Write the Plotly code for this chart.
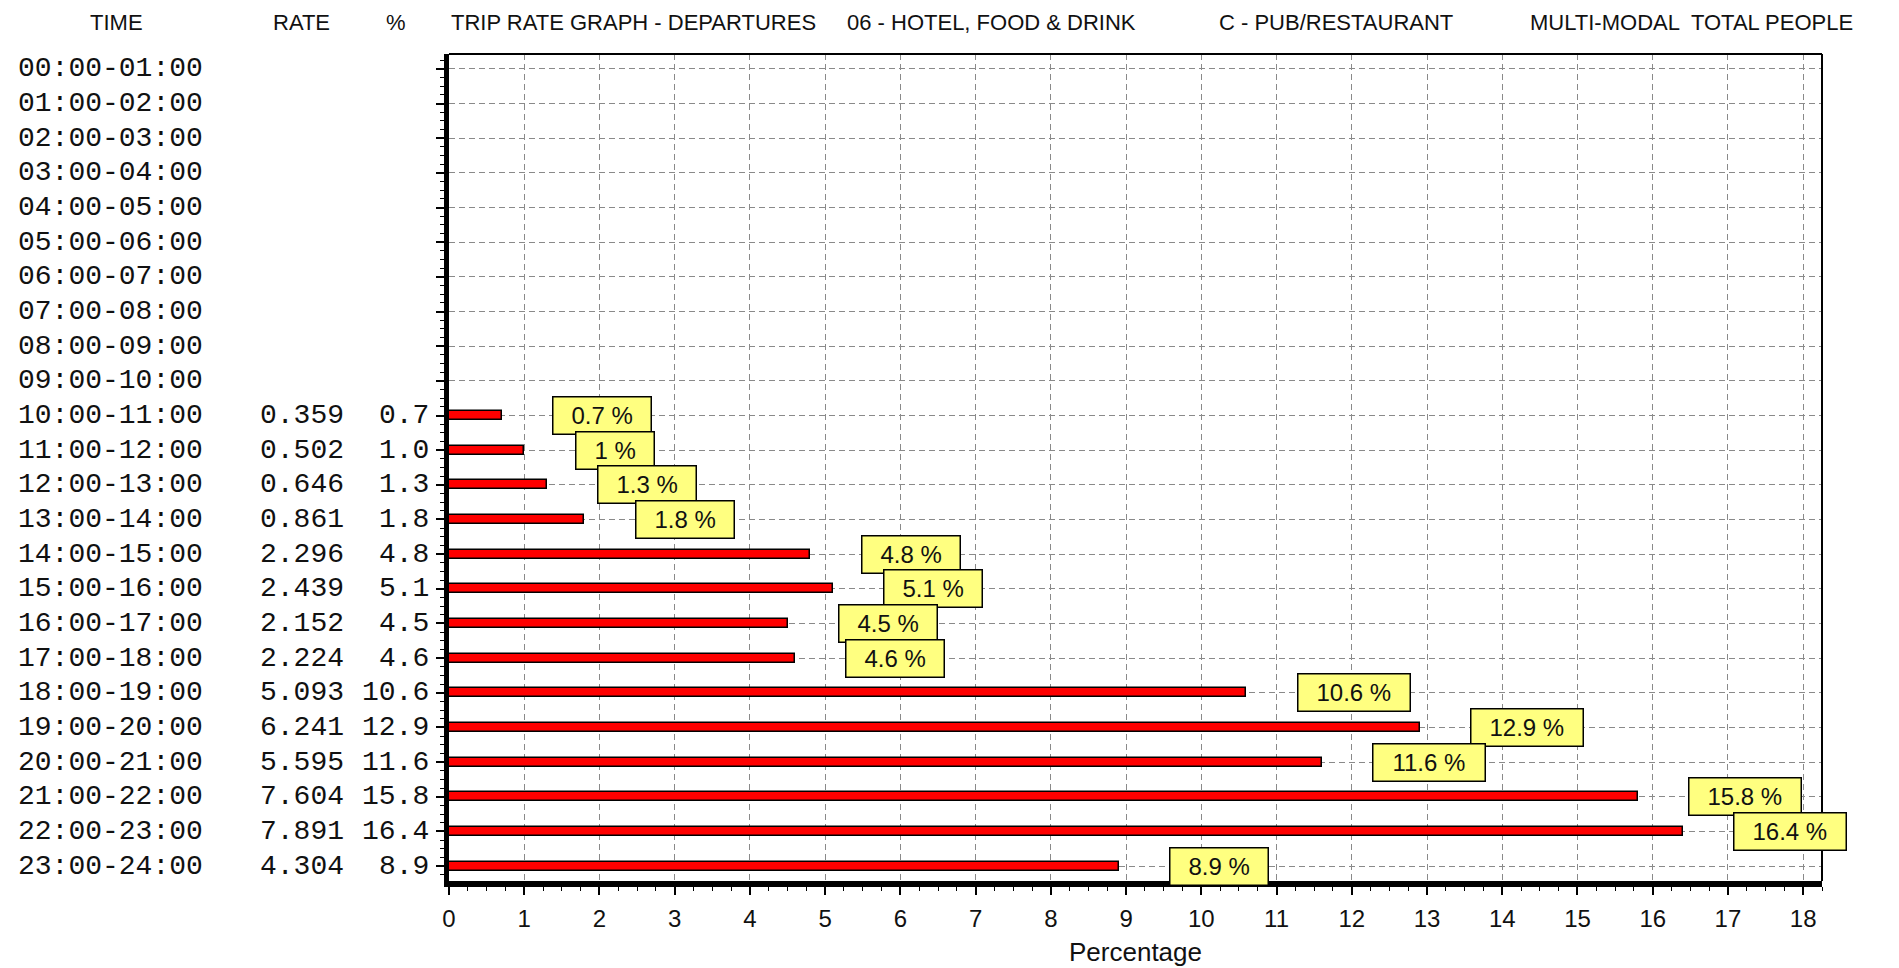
import plotly.graph_objects as go

# ---------------- data ----------------
times = ["00:00-01:00", "01:00-02:00", "02:00-03:00", "03:00-04:00", "04:00-05:00",
         "05:00-06:00", "06:00-07:00", "07:00-08:00", "08:00-09:00", "09:00-10:00",
         "10:00-11:00", "11:00-12:00", "12:00-13:00", "13:00-14:00", "14:00-15:00",
         "15:00-16:00", "16:00-17:00", "17:00-18:00", "18:00-19:00", "19:00-20:00",
         "20:00-21:00", "21:00-22:00", "22:00-23:00", "23:00-24:00"]
rates = [None, None, None, None, None, None, None, None, None, None,
         0.359, 0.502, 0.646, 0.861, 2.296, 2.439, 2.152, 2.224, 5.093, 6.241,
         5.595, 7.604, 7.891, 4.304]
percents = [None, None, None, None, None, None, None, None, None, None,
            0.7, 1.0, 1.3, 1.8, 4.8, 5.1, 4.5, 4.6, 10.6, 12.9,
            11.6, 15.8, 16.4, 8.9]
x_ticks = [0, 1, 2, 3, 4, 5, 6, 7, 8, 9, 10, 11, 12, 13, 14, 15, 16, 17, 18]
header_cols = ["TIME", "RATE", "%"]
title_parts = ["TRIP RATE GRAPH - DEPARTURES", "06 - HOTEL, FOOD & DRINK",
               "C - PUB/RESTAURANT", "MULTI-MODAL  TOTAL PEOPLE"]
x_title = "Percentage"

# ---------------- layout geometry (pixels) ----------------
W, H = 1899, 968
L, R, T, B = 449, 1822, 54, 881
rows = list(range(len(times)))


def px_x(X):
    return (X - L) / (R - L)


def px_y(Y):
    return (B - Y) / (B - T)


MONO = "Liberation Mono, Courier New, monospace"
SANS = "Liberation Sans, Arial, sans-serif"
TXT = "#111111"

fig = go.Figure()
fig.add_trace(go.Bar(
    x=percents, y=rows, orientation="h", width=0.26,
    marker=dict(color="#FF0000", line=dict(color="black", width=1.5)),
    hoverinfo="skip", showlegend=False,
))

ann = []
# left table columns
for i, t in enumerate(times):
    ann.append(dict(text=t, xref="paper", yref="y", x=px_x(16), y=i, xanchor="left",
                    yanchor="middle", showarrow=False, font=dict(family=MONO, size=28, color=TXT)))
    if rates[i] is not None:
        ann.append(dict(text=f"{rates[i]:.3f}", xref="paper", yref="y", x=px_x(346), y=i,
                        xanchor="right", yanchor="middle", showarrow=False,
                        font=dict(family=MONO, size=28, color=TXT)))
    if percents[i] is not None:
        ann.append(dict(text=f"{percents[i]:.1f}", xref="paper", yref="y", x=px_x(431), y=i,
                        xanchor="right", yanchor="middle", showarrow=False,
                        font=dict(family=MONO, size=28, color=TXT)))

# header
for txt, X in zip(header_cols, [116, 301, 396]):
    ann.append(dict(text=txt, xref="paper", yref="paper", x=px_x(X), y=px_y(22),
                    xanchor="center", yanchor="middle", showarrow=False,
                    font=dict(family=SANS, size=22, color=TXT)))
for txt, X, anc in zip(title_parts, [449, 991, 1336, 1528], ["left", "center", "center", "left"]):
    ann.append(dict(text=txt, xref="paper", yref="paper", x=px_x(X), y=px_y(22),
                    xanchor=anc, yanchor="middle", showarrow=False,
                    font=dict(family=SANS, size=22, color=TXT)))

# value labels (yellow boxes)
CW = {".": 0.278, " ": 0.278, "%": 0.889}
LABEL_GAP = 0.67
for i, v in enumerate(percents):
    if v is None:
        continue
    txt = f"{v:g} %"
    est = sum(CW.get(c, 0.556) for c in txt) * 24
    ann.append(dict(text=txt, xref="x", yref="y", x=v + LABEL_GAP, y=i,
                    xanchor="left", yanchor="middle", showarrow=False,
                    bgcolor="#FFFF80", bordercolor="black", borderwidth=1.5, borderpad=1,
                    width=est + 34, height=34, align="center",
                    font=dict(family=SANS, size=24, color=TXT)))

shapes = [
    dict(type="line", xref="paper", yref="paper", x0=0, x1=1, y0=1, y1=1,
         line=dict(color="black", width=2)),
    dict(type="line", xref="paper", yref="paper", x0=1, x1=1, y0=0, y1=1,
         line=dict(color="black", width=2)),
]

fig.update_layout(
    width=W, height=H,
    margin=dict(l=L, r=W - R, t=T, b=H - B, pad=0, autoexpand=False),
    paper_bgcolor="white", plot_bgcolor="white",
    annotations=ann, shapes=shapes,
    bargap=0,
    xaxis=dict(
        automargin=False,
        range=[0, 18.25], tickmode="array", tickvals=x_ticks,
        ticks="outside", ticklen=8, tickwidth=1.5, tickcolor="black",
        ticklabelstandoff=3,
        minor=dict(dtick=0.25, tick0=0, ticks="outside", ticklen=4, tickcolor="black",
                   tickwidth=1, showgrid=False),
        showgrid=True, gridcolor="#8a8a8a", griddash="6px,4px", gridwidth=1,
        zeroline=False, showline=True, linecolor="black", linewidth=6,
        tickfont=dict(family=SANS, size=24, color=TXT),
        title=dict(text=x_title, font=dict(family=SANS, size=26, color=TXT), standoff=14),
        fixedrange=True,
    ),
    yaxis=dict(
        automargin=False,
        range=[23.43, -0.43], tick0=0, dtick=1,
        ticks="outside", ticklen=8, tickwidth=1.5, tickcolor="black",
        minor=dict(dtick=0.25, tick0=0, ticks="outside", ticklen=4, tickcolor="black",
                   tickwidth=1, showgrid=False),
        showticklabels=False,
        showgrid=True, gridcolor="#8a8a8a", griddash="6px,4px", gridwidth=1,
        zeroline=False, showline=True, linecolor="black", linewidth=5,
        fixedrange=True,
    ),
)

fig.write_html("out.html", config={"displayModeBar": False},
               post_script="document.body.style.margin='0';")
